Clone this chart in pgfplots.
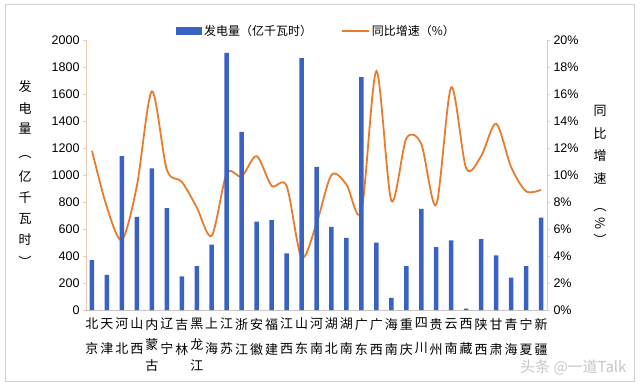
\documentclass[border=0pt]{standalone}
\usepackage{fontspec}
\setmainfont{Liberation Sans}
\newfontfamily\cjk{Noto Sans CJK SC}
\usepackage{pgfplots}
\pgfplotsset{compat=1.18}
\usepackage{pgfplotstable}
\definecolor{barblue}{RGB}{58,98,196}
\definecolor{lineorange}{RGB}{232,124,44}
\definecolor{axtan}{RGB}{232,205,178}

\pgfplotstableread{
x gen
0 370
1 260
2 1140
3 690
4 1050
5 755
6 250
7 325
8 485
9 1905
10 1320
11 655
12 665
13 420
14 1865
15 1060
16 615
17 535
18 1725
19 500
20 90
21 325
22 750
23 465
24 515
25 10
26 525
27 405
28 240
29 325
30 685
}\gentable

\pgfplotstableread{
x growth
0 11.8
1 7.6
2 5.2
3 9.2
4 16.2
5 10.4
6 9.5
7 7.6
8 5.5
9 10.1
10 9.9
11 11.4
12 9.2
13 9.2
14 3.9
15 6.4
16 10.0
17 9.3
18 7.3
19 17.7
20 8.1
21 12.7
22 12.3
23 7.8
24 16.5
25 10.5
26 11.4
27 13.8
28 10.6
29 8.8
30 8.9
}\growthtable

\begin{document}
\begin{tikzpicture}
\path[use as bounding box] (0pt,0pt) rectangle (640pt,-388pt);
\draw[gray!35, line width=1pt] (5pt,-4pt) rectangle (634pt,-381pt);

% growth line on the right axis (drawn first, so bars lie on top)
\begin{axis}[
  at={(86pt,-310pt)}, anchor=south west, scale only axis,
  width=461pt, height=270pt,
  xmin=-0.4, xmax=30.4, ymin=0, ymax=20,
  axis x line=none, axis y line*=right,
  y axis line style={axtan, line width=0.8pt},
  ytick={0,2,...,20},
  yticklabel={\pgfmathprintnumber{\tick}\%},
  ytick style={axtan, line width=0.8pt},
  major tick length=3pt, tick align=outside,
  yticklabel style={font=\fontsize{12.5}{14}\selectfont, /pgf/number format/assume math mode=true},
]
\addplot[lineorange, line width=1.8pt, smooth] table[x=x, y=growth] {\growthtable};
\end{axis}

% generation bars on the left axis
\begin{axis}[
  at={(86pt,-310pt)}, anchor=south west, scale only axis,
  width=461pt, height=270pt,
  xmin=-0.4, xmax=30.4, ymin=0, ymax=2000,
  axis y line*=left, axis x line*=bottom,
  y axis line style={axtan, line width=0.8pt},
  x axis line style={gray!45, line width=0.8pt},
  ytick={0,200,...,2000},
  ytick style={axtan, line width=0.8pt},
  major tick length=3pt, tick align=outside,
  yticklabel style={font=\fontsize{12.5}{14}\selectfont,
    /pgf/number format/set thousands separator={},
    /pgf/number format/assume math mode=true},
  xtick={0,...,30}, xtick style={draw=none},
  xticklabels={{北\\京},{天\\津},{河\\北},{山\\西},{内\\[-4.3pt]蒙\\[-4.3pt]古},{辽\\宁},{吉\\林},{黑\\[-4.3pt]龙\\[-4.3pt]江},{上\\海},{江\\苏},{浙\\江},{安\\徽},{福\\建},{江\\西},{山\\东},{河\\南},{湖\\北},{湖\\南},{广\\东},{广\\西},{海\\南},{重\\庆},{四\\川},{贵\\州},{云\\南},{西\\藏},{陕\\西},{甘\\肃},{青\\海},{宁\\夏},{新\\疆}},
  xticklabel style={font=\cjk\fontsize{13}{25}\selectfont, align=center, anchor=north, inner sep=0pt, yshift=-5pt},
  legend columns=2,
  legend style={at={(axis description cs:0.5,1.033)}, anchor=center, draw=none, fill=none,
    font=\cjk\fontsize{12}{14}\selectfont,
    /tikz/every even column/.append style={column sep=27pt},
    nodes={inner sep=2pt}},
]
\addplot[ybar, bar width=4.5pt, fill=barblue, draw=none,
  legend image code/.code={\fill[barblue] (0pt,-4pt) rectangle (26pt,4pt);}]
  table[x=x, y=gen] {\gentable};
\addlegendentry{发电量（亿千瓦时）}
\addlegendimage{legend image code/.code={\draw[lineorange, line width=1.8pt] (0pt,0pt) -- (27pt,0pt);}}
\addlegendentry{同比增速（\%）}
\end{axis}

% vertical axis titles, one character under another
\begin{scope}[every node/.style={font=\cjk\fontsize{13}{13}\selectfont, inner sep=0pt}]
\foreach \c/\yy in {发/87, 电/108, 量/129, 亿/177, 千/198, 瓦/219, 时/240}
  \node at (25pt,-\yy pt) {\c};
\node[rotate=-90] at (25pt,-153pt) {（};
\node[rotate=-90] at (25pt,-262pt) {）};
\foreach \c/\yy in {同/111, 比/134, 增/156, 速/179}
  \node at (600pt,-\yy pt) {\c};
\node[rotate=-90] at (600pt,-206pt) {（};
\node[rotate=-90] at (600pt,-223pt) {\%};
\node[rotate=-90] at (600pt,-240pt) {）};
\end{scope}

\node[anchor=east, font=\cjk\fontsize{15}{15}\selectfont, text=gray!45] at (630pt,-367pt) {头条 @一道Talk};
\end{tikzpicture}
\end{document}
